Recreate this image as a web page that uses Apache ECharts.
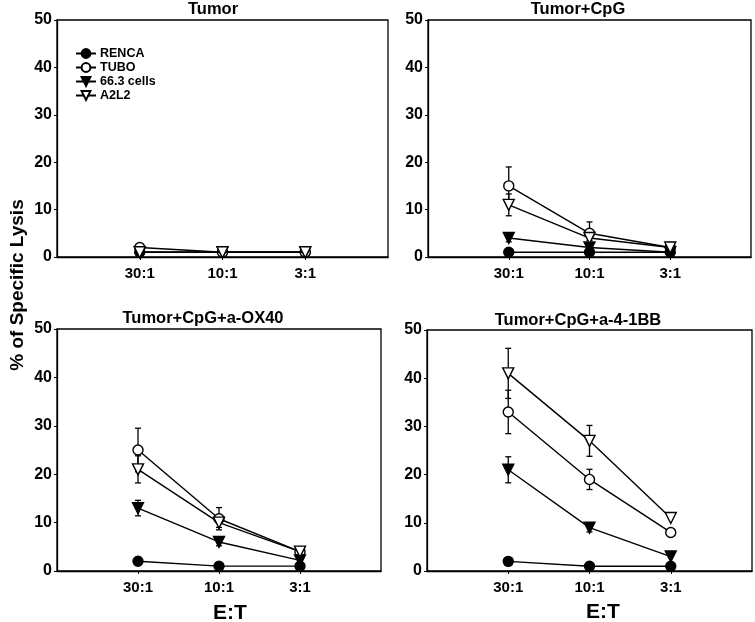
<!DOCTYPE html>
<html>
<head>
<meta charset="utf-8">
<script src="https://cdn.jsdelivr.net/npm/echarts@6/dist/echarts.min.js"></script>
<style>
html,body{margin:0;padding:0;background:#fff;}
#chart{width:755px;height:622px;}
</style>
</head>
<body>
<div id="chart"></div>
<script>
// ---- data ----
const categories = ['30:1', '10:1', '3:1'];
const seriesNames = ['RENCA', 'TUBO', '66.3 cells', 'A2L2'];
const panelTitles = ['Tumor', 'Tumor+CpG', 'Tumor+CpG+a-OX40', 'Tumor+CpG+a-4-1BB'];
const yMin = 0, yMax = 50, yStep = 10;

// values per panel, rows in seriesNames order, columns in categories order
const valTumor = [[1, 1, 1], [2, 1, 1], [1, 1, 1], [1, 1, 1]];
const valCpG   = [[1, 1, 1], [15, 5, 2], [4, 2, 1], [11, 4, 2]];
const valOX40  = [[2, 1, 1], [25, 10.8, 4], [13, 6, 2.2], [21, 10, 4]];
const val41BB  = [[2, 1, 1], [33, 19, 8], [21, 9, 3], [41, 27, 11]];

// error (+/-) per panel
const errTumor = [[0, 0, 0], [0, 0, 0], [0, 0, 0], [0, 0, 0]];
const errCpG   = [[0, 0, 0], [4, 2.4, 0], [0.8, 0.3, 0], [2.3, 0.5, 0]];
const errOX40  = [[0, 0, 0], [4.5, 2.3, 0], [1.6, 0.8, 0.3], [2.8, 1, 0]];
const err41BB  = [[0, 0, 0], [4.5, 2.1, 0], [2.7, 0.9, 0], [5.2, 3.2, 0]];

const panelValues = [valTumor, valCpG, valOX40, val41BB];
const panelErrors = [errTumor, errCpG, errOX40, err41BB];

// ---- layout / style ----
const FONT = '"Liberation Sans", Arial, Helvetica, sans-serif';
const grids = [
  {left: 57, top: 20, width: 331, height: 237},
  {left: 428, top: 20, width: 323, height: 237},
  {left: 57, top: 329, width: 324, height: 242},
  {left: 427, top: 330, width: 325, height: 241}
];
const symbols = [
  {symbol: 'circle', fill: '#000', size: 10, rotate: 0},
  {symbol: 'circle', fill: '#fff', size: 10, rotate: 0},
  {symbol: 'triangle', fill: '#000', size: 11, rotate: 180},
  {symbol: 'triangle', fill: '#fff', size: 11, rotate: 180}
];

const axisCats = [''].concat(categories, ['']);

const option = {
  animation: false,
  backgroundColor: '#fff',
  grid: grids.map(g => Object.assign({show: true, borderColor: '#000', borderWidth: 1.3, backgroundColor: 'transparent'}, g)),
  xAxis: grids.map((g, i) => ({
    type: 'category', gridIndex: i, data: axisCats, boundaryGap: false,
    axisLine: {lineStyle: {color: '#000', width: 1.3}},
    axisTick: {show: true, length: 3, lineStyle: {color: '#000'}, interval: (idx) => idx >= 1 && idx <= categories.length},
    axisLabel: {color: '#000', fontFamily: FONT, fontWeight: 'bold', fontSize: 15, margin: 9, interval: 0},
    splitLine: {show: false}
  })),
  yAxis: grids.map((g, i) => ({
    type: 'value', gridIndex: i, min: yMin, max: yMax, interval: yStep,
    axisLine: {show: true, lineStyle: {color: '#000', width: 1.3}},
    axisTick: {show: true, length: 3, lineStyle: {color: '#000'}},
    axisLabel: {color: '#000', fontFamily: FONT, fontWeight: 'bold', fontSize: 16, margin: 5},
    splitLine: {show: false}
  })),
  legend: {
    data: seriesNames.map((n, k) => ({name: n})),
    orient: 'vertical', left: 70, top: 42, itemGap: 1,
    itemWidth: 20, itemHeight: 11,
    textStyle: {color: '#000', fontFamily: FONT, fontWeight: 'bold', fontSize: 12.5, padding: [0, 0, 0, -1]},
    selectedMode: false
  },
  series: [],
  graphic: []
};

panelValues.forEach((vals, p) => {
  // error bars
  seriesNames.forEach((name, s) => {
    const errs = panelErrors[p][s];
    const data = [];
    vals[s].forEach((v, c) => {
      if (errs[c] > 0) data.push([c + 1, v - errs[c], v + errs[c]]);
    });
    option.series.push({
      type: 'custom', xAxisIndex: p, yAxisIndex: p, z: 1, silent: true,
      data: data,
      renderItem: function (params, api) {
        const x = api.value(0);
        const lo = api.coord([x, api.value(1)]);
        const hi = api.coord([x, api.value(2)]);
        const h = 3;
        const st = {stroke: '#000', lineWidth: 1.3};
        return {type: 'group', children: [
          {type: 'line', shape: {x1: lo[0], y1: lo[1], x2: hi[0], y2: hi[1]}, style: st},
          {type: 'line', shape: {x1: hi[0] - h, y1: hi[1], x2: hi[0] + h, y2: hi[1]}, style: st},
          {type: 'line', shape: {x1: lo[0] - h, y1: lo[1], x2: lo[0] + h, y2: lo[1]}, style: st}
        ]};
      }
    });
  });
  // lines with markers
  seriesNames.forEach((name, s) => {
    const sym = symbols[s];
    option.series.push({
      type: 'line', name: name, xAxisIndex: p, yAxisIndex: p, z: 2 + s,
      data: vals[s].map((v, c) => [c + 1, v]),
      symbol: sym.symbol, symbolSize: sym.size, symbolRotate: sym.rotate, showAllSymbol: true,
      lineStyle: {color: '#000', width: 1.4},
      itemStyle: {color: sym.fill, borderColor: '#000', borderWidth: 1.4},
      emphasis: {disabled: true}
    });
  });
});

const titlePos = [[213, 9], [578, 9], [203, 318], [578, 320]];
panelTitles.forEach((t, i) => {
  option.graphic.push({type: 'text', x: titlePos[i][0], y: titlePos[i][1],
    style: {text: t, fill: '#000', font: 'bold 16.5px ' + FONT, align: 'center', verticalAlign: 'middle'}});
});
[[230, 613], [603, 612]].forEach(pos => {
  option.graphic.push({type: 'text', x: pos[0], y: pos[1],
    style: {text: 'E:T', fill: '#000', font: 'bold 21px ' + FONT, align: 'center', verticalAlign: 'middle'}});
});
option.graphic.push({type: 'text', x: 18, y: 285, rotation: Math.PI / 2,
  style: {text: '% of Specific Lysis', fill: '#000', font: 'bold 19px ' + FONT, align: 'center', verticalAlign: 'middle'}});

const chart = echarts.init(document.getElementById('chart'), null, {renderer: 'canvas'});
chart.setOption(option);
</script>
</body>
</html>
